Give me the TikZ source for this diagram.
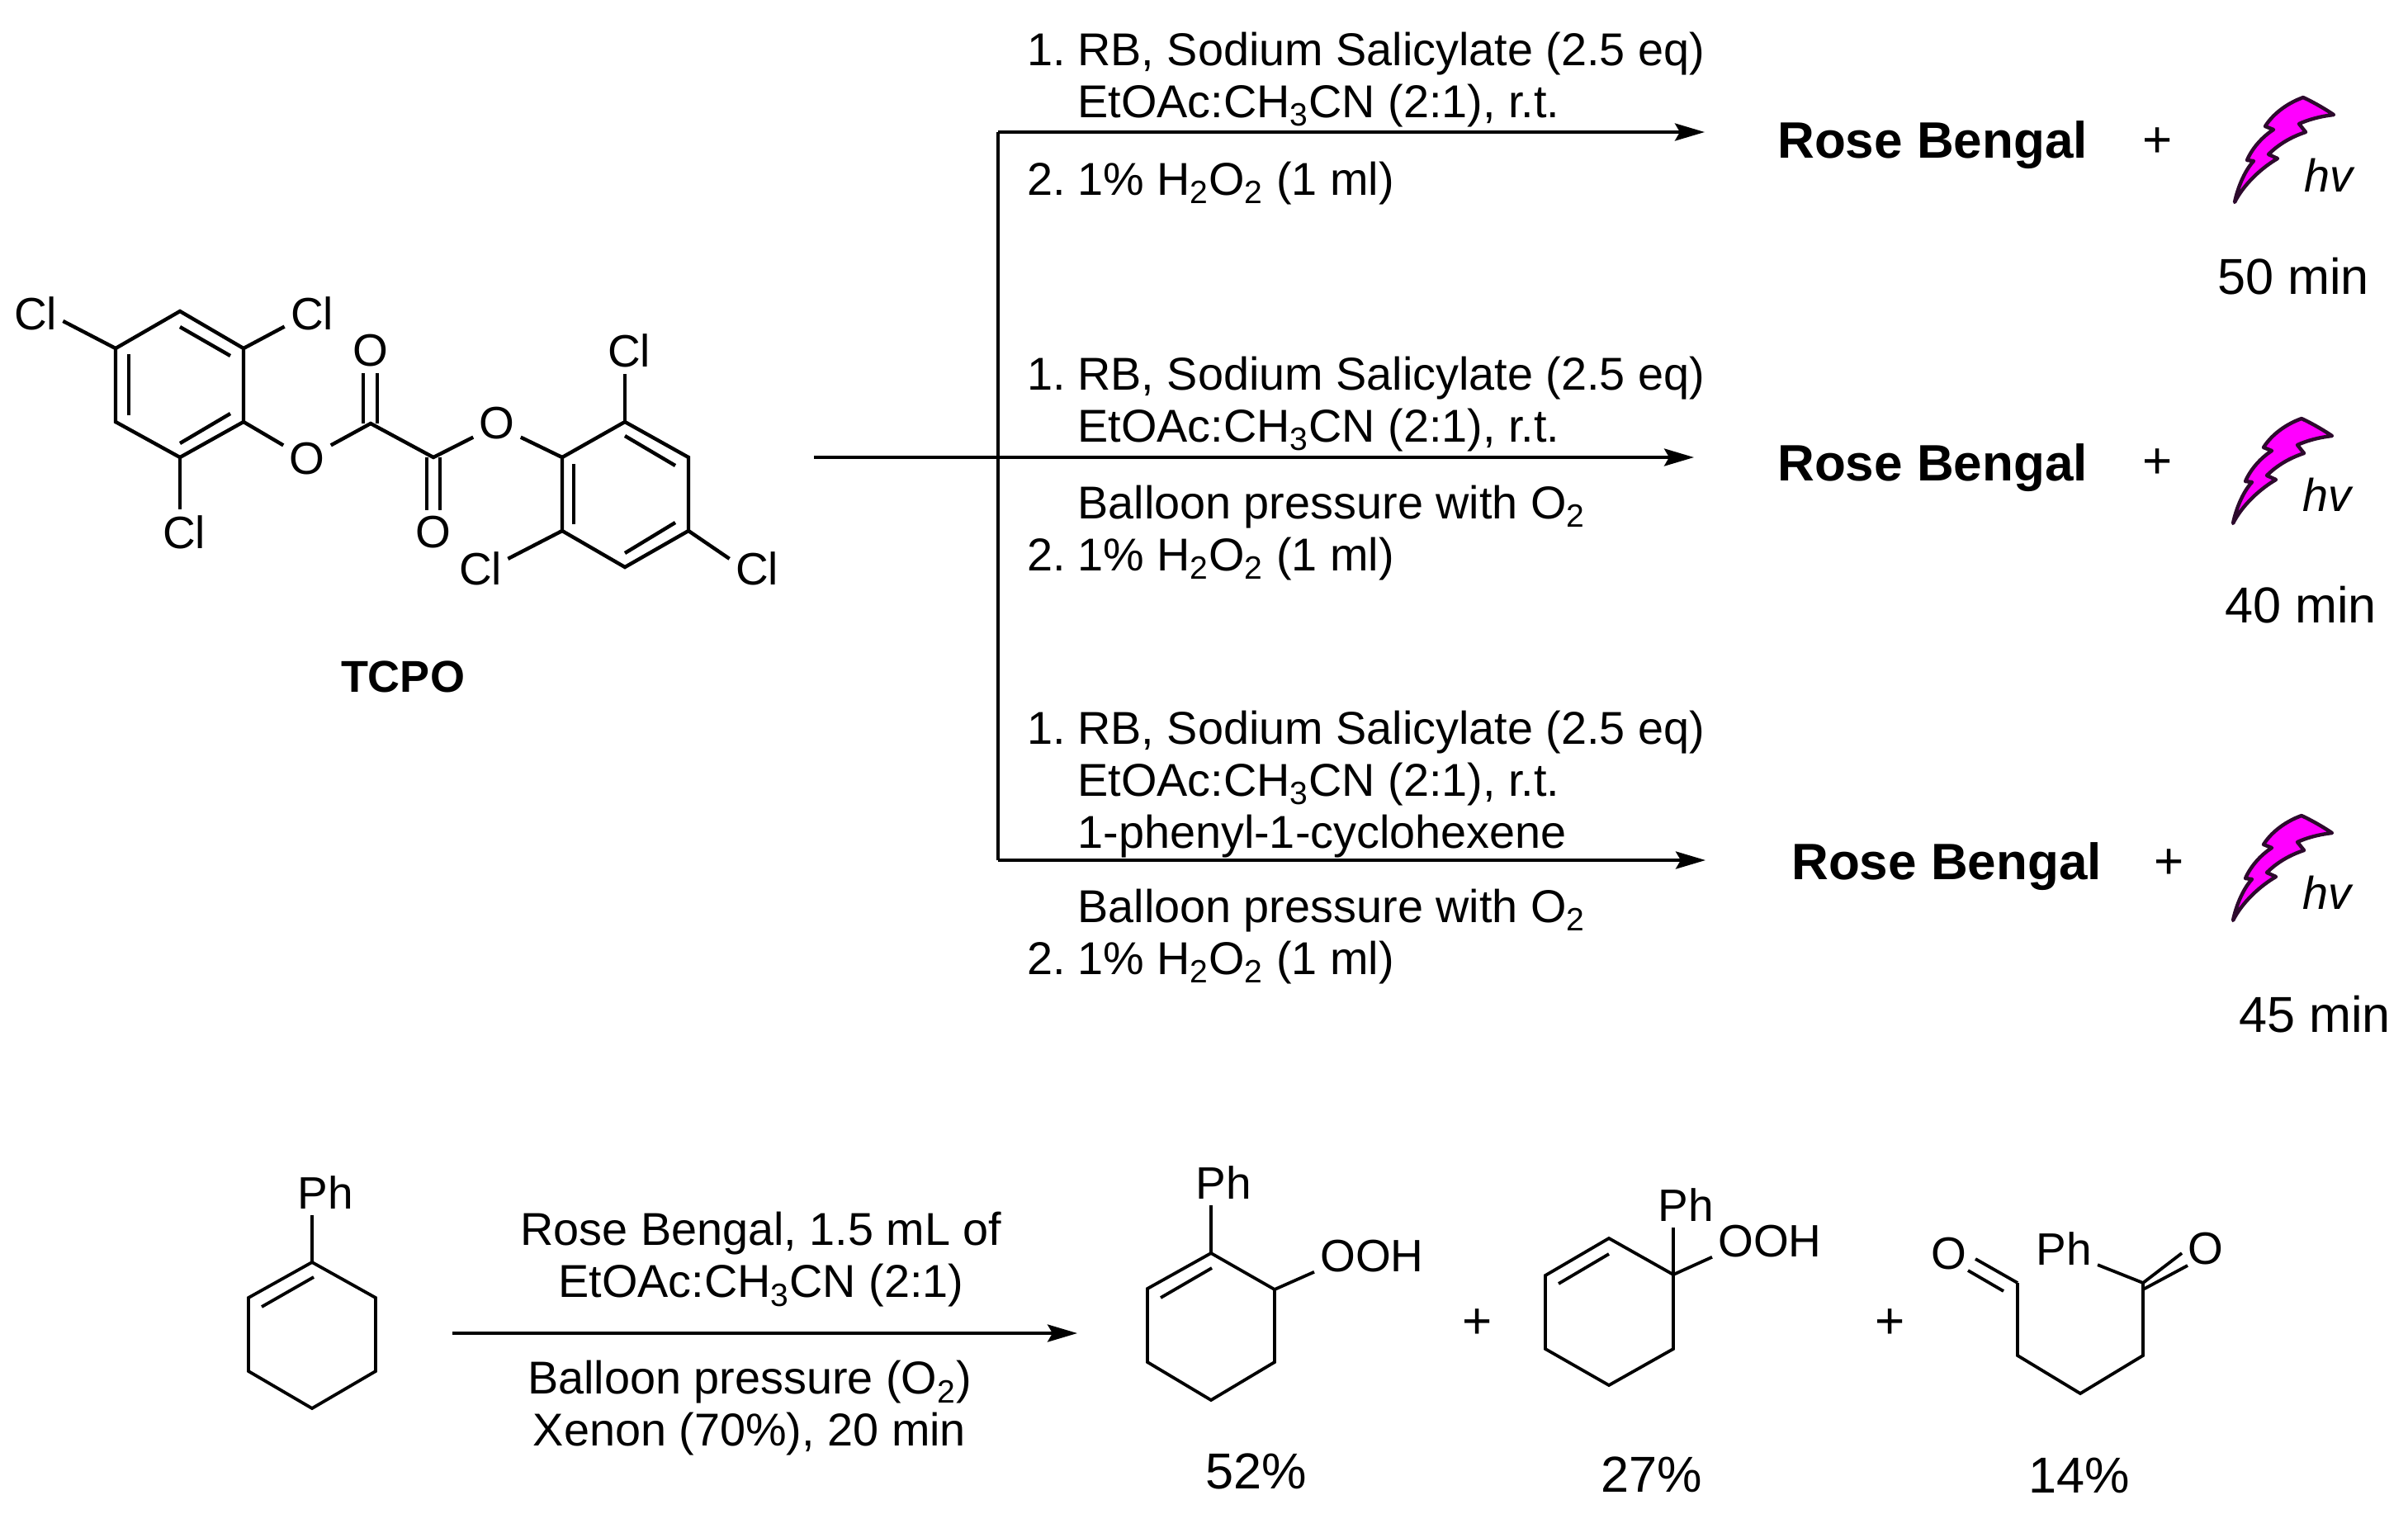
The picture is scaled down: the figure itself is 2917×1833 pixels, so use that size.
\documentclass[tikz,border=0pt]{standalone}
\usepackage{fontspec}
\setmainfont{Liberation Sans}
\usetikzlibrary{
  arrows.meta,
  calc,
  positioning,
}
\definecolor{boltfill}{RGB}{255,0,255}
\definecolor{boltline}{RGB}{45,10,45}

\begin{document}
\begin{tikzpicture}[
    x = 0.5pt,
    y = -0.5pt,
    bond/.style={line width=2.2pt},
    bondb/.style={line width=1.9pt},
    atom/.style={inner sep=3.5pt, font=\fontsize{27.5}{32}\selectfont},
    cond/.style={inner sep=0pt, font=\fontsize{27.9}{31.5}\selectfont},
    rb/.style={inner sep=0pt, font=\bfseries\fontsize{31}{36}\selectfont},
    res/.style={inner sep=0pt, font=\fontsize{30.6}{36}\selectfont},
    plus/.style={inner sep=0pt, font=\fontsize{31}{36}\selectfont},
    a/.style={-{Stealth[length=18pt,width=10.5pt,inset=3pt]}, line width=2pt},
    bolt/.pic={
      \draw[line width=2.2pt, draw=boltline, fill=boltfill, line join=round]
      (0,0) .. controls (15,7) and (28,15) .. (37,21)
      .. controls (20,23) and (6,27) .. (-5,32)
      -- (3,42)
      .. controls (-15,48) and (-30,57) .. (-42,69)
      -- (-31,74)
      .. controls (-50,85) and (-72,105) .. (-83,127)
      .. controls (-80,112) and (-72,90) .. (-60,77)
      -- (-68,76)
      .. controls (-62,62) and (-50,48) .. (-36,39)
      -- (-46,35)
      .. controls (-38,22) and (-22,8) .. (0,0) -- cycle;
    },]
  \useasboundingbox (0,0) rectangle (2917,1833);
  %% left ring
  \coordinate (La) at (218,377);
  \coordinate (Lb) at (295,422);
  \coordinate (Lc) at (295,511);
  \coordinate (Ld) at (218,554);
  \coordinate (Le) at (140,511);
  \coordinate (Lf) at (140,422);
  \draw[bond] (La) -- (Lb) -- (Lc) -- (Ld) -- (Le) -- (Lf) -- cycle;
  \draw[bond] (218,396) -- (279,431);
  \draw[bond] (156,429) -- (156,503);
  \draw[bond] (218,537) -- (279,501);
  %% right ring
  \coordinate (Ra) at (681,554);
  \coordinate (Rb) at (757,511);
  \coordinate (Rc) at (834,554);
  \coordinate (Rd) at (834,643);
  \coordinate (Re) at (757,687);
  \coordinate (Rf) at (681,643);
  \draw[bond] (Ra) -- (Rb) -- (Rc) -- (Rd) -- (Re) -- (Rf) -- cycle;
  \draw[bond] (757,528) -- (818,564);
  \draw[bond] (695,562) -- (695,635);
  \draw[bond] (757,670) -- (818,633);
  %% linker
  \coordinate (Ca) at (449,513);
  \coordinate (Cb) at (525,554);
  \node[atom](OL) at (372,556) {O};
  \node[atom](OR) at (602,513) {O};
  \node[atom](OT) at (449,425) {O};
  \node[atom](OB) at (525,645) {O};
  \node[atom](ClA) at (43,380) {Cl};
  \node[atom](ClB) at (378,380) {Cl};
  \node[atom](ClC) at (223,645) {Cl};
  \node[atom](ClD) at (762,425) {Cl};
  \node[atom](ClE) at (582,689) {Cl};
  \node[atom](ClF) at (917,689) {Cl};
  \node[rb,font=\bfseries\fontsize{27}{32}\selectfont](Tcpo) at (488,820) {TCPO};
  %%
  \draw[bond] (Lf) -- (ClA.-15);
  \draw[bond] (Lb) -- (ClB.205);
  \draw[bond] (Ld) -- (Ld |- ClC.north);
  \draw[bond] (Lc) -- (OL.150);
  \draw[bond] (OL.30) -- (Ca) -- (Cb) -- (OR.210);
  \draw[bond] (OR.-30) -- (Ra);
  \draw[bond] (Rb) -- (Rb |- ClD.south);
  \draw[bond] (Rf) -- (ClE.20);
  \draw[bond] (Rd) -- (ClF.160);
  \draw[bond] ($(Ca)+(-9,0)$) -- ($(OT.south)+(-9,0)$);
  \draw[bond] ($(Ca)+(8,0)$) -- ($(OT.south)+(8,0)$);
  \draw[bond] ($(Cb)+(-8,0)$) -- ($(OB.north)+(-8,0)$);
  \draw[bond] ($(Cb)+(8,0)$) -- ($(OB.north)+(8,0)$);
  %% reaction arrows
  \coordinate (TrA) at (1209,160);
  \coordinate (TrB) at (1209,554);
  \coordinate (TrC) at (1209,1042);
  \coordinate (StartB) at (986,554);
  \coordinate (EndA) at (2065,160);
  \coordinate (EndB) at (2052,554);
  \coordinate (EndC) at (2066,1042);
  \draw[line width=2pt] (TrA) -- (TrC);
  \draw[->,a] (TrA) -- (EndA);
  \draw[->,a] (StartB) -- (EndB);
  \draw[->,a] (TrC) -- (EndC);
  %%
  \node[cond,align=left,above right=3pt and 17.5pt of TrA](UpA)
  {1.\hspace{7.2pt}RB, Sodium Salicylate (2.5 eq)\\
    \hspace{30.5pt}EtOAc:CH\textsubscript{3}CN (2:1), r.t.};
  \node[cond,align=left,below right=18pt and 17.5pt of TrA](LowA)
  {2.\hspace{7.2pt}1\% H\textsubscript{2}O\textsubscript{2} (1 ml)};
  \node[cond,align=left,above right=3.3pt and 17.5pt of TrB](UpB)
  {1.\hspace{7.2pt}RB, Sodium Salicylate (2.5 eq)\\
    \hspace{30.5pt}EtOAc:CH\textsubscript{3}CN (2:1), r.t.};
  \node[cond,align=left,below right=17pt and 17.5pt of TrB](LowB)
  {\hspace{30.5pt}Balloon pressure with O\textsubscript{2}\\
    2.\hspace{7.2pt}1\% H\textsubscript{2}O\textsubscript{2} (1 ml)};
  \node[cond,align=left,above right=1.5pt and 17.5pt of TrC](UpC)
  {1.\hspace{7.2pt}RB, Sodium Salicylate (2.5 eq)\\
    \hspace{30.5pt}EtOAc:CH\textsubscript{3}CN (2:1), r.t.\\
    \hspace{30.5pt}1-phenyl-1-cyclohexene};
  \node[cond,align=left,below right=17.5pt and 17.5pt of TrC](LowC)
  {\hspace{30.5pt}Balloon pressure with O\textsubscript{2}\\
    2.\hspace{7.2pt}1\% H\textsubscript{2}O\textsubscript{2} (1 ml)};
  %% right column
  \node[rb](RbA) at (2341,176) {Rose Bengal};
  \node[rb](RbB) at (2341,567) {Rose Bengal};
  \node[rb](RbC) at (2358,1050) {Rose Bengal};
  \node[plus](PlA) at (2614,173) {+};
  \node[plus](PlB) at (2614,562) {+};
  \node[plus](PlC) at (2628,1047) {+};
  \pic at (2790,118) {bolt};
  \pic at (2788,507) {bolt};
  \pic at (2788,988) {bolt};
  \node[cond](HvA) at (2822,212) {\textit{hv}};
  \node[cond](HvB) at (2820,599) {\textit{hv}};
  \node[cond](HvC) at (2820,1081) {\textit{hv}};
  \node[res](TiA) at (2778,335) {50 min};
  \node[res](TiB) at (2787,733) {40 min};
  \node[res](TiC) at (2804,1229) {45 min};
  %% bottom reaction
  \coordinate (Sa) at (378,1529);
  \coordinate (Sb) at (455,1572);
  \coordinate (Sc) at (455,1661);
  \coordinate (Sd) at (378,1706);
  \coordinate (Se) at (301,1661);
  \coordinate (Sf) at (301,1572);
  \draw[bondb] (Sa) -- (Sb) -- (Sc) -- (Sd) -- (Se) -- (Sf) -- cycle;
  \draw[bondb] (380,1547) -- (317,1583);
  \node[atom](PhS) at (394,1445) {Ph};
  \draw[bondb] (Sa) -- (Sa |- PhS.south);
  %%
  \coordinate (StartD) at (548,1615);
  \coordinate (EndD) at (1305,1615);
  \draw[->,a] (StartD) -- (EndD);
  \node[cond,align=center](UpD) at (922,1526) {Rose Bengal, 1.5 mL of\\EtOAc:CH\textsubscript{3}CN (2:1)};
  \node[cond,align=center](LowD) at (908,1706) {Balloon pressure (O\textsubscript{2})\\Xenon (70\%), 20 min};
  %% first product
  \coordinate (Pa) at (1467,1518);
  \coordinate (Pb) at (1544,1562);
  \coordinate (Pc) at (1544,1650);
  \coordinate (Pd) at (1467,1696);
  \coordinate (Pe) at (1390,1650);
  \coordinate (Pf) at (1390,1561);
  \draw[bondb] (Pa) -- (Pb) -- (Pc) -- (Pd) -- (Pe) -- (Pf) -- cycle;
  \draw[bondb] (1468,1536) -- (1406,1572);
  \node[atom](PhP) at (1482,1433) {Ph};
  \node[atom](OohP) at (1662,1522) {OOH};
  \draw[bondb] (Pa) -- (Pa |- PhP.south);
  \draw[bondb] (Pb) -- (OohP.195);
  \node[res](YiP) at (1522,1782) {52\%};
  \node[plus](PlD) at (1790,1604) {+};
  %% second product
  \coordinate (Qa) at (1949,1500);
  \coordinate (Qb) at (2027,1544);
  \coordinate (Qc) at (2027,1634);
  \coordinate (Qd) at (1949,1678);
  \coordinate (Qe) at (1872,1634);
  \coordinate (Qf) at (1872,1545);
  \draw[bondb] (Qa) -- (Qb) -- (Qc) -- (Qd) -- (Qe) -- (Qf) -- cycle;
  \draw[bondb] (1949,1519) -- (1888,1555);
  \node[atom](PhQ) at (2042,1460) {Ph};
  \node[atom](OohQ) at (2144,1504) {OOH};
  \draw[bondb] (Qb) -- (Qb |- PhQ.south);
  \draw[bondb] (Qb) -- (OohQ.195);
  \node[res](YiQ) at (2001,1786) {27\%};
  \node[plus](PlE) at (2290,1604) {+};
  %% third product
  \coordinate (Ka) at (2444,1554);
  \coordinate (Kb) at (2444,1642);
  \coordinate (Kc) at (2520,1688);
  \coordinate (Kd) at (2596,1642);
  \coordinate (Ke) at (2596,1554);
  \draw[bondb] (Ka) -- (Kb) -- (Kc) -- (Kd) -- (Ke);
  \node[atom](OKa) at (2361,1519) {O};
  \node[atom](OKb) at (2672,1513) {O};
  \node[atom](PhK) at (2500,1513) {Ph};
  \draw[bondb] (Ka) -- (2393,1525);
  \draw[bondb] (2427,1564) -- (2384,1539);
  \draw[bondb] (Ke) -- (2643,1518);
  \draw[bondb] (2596,1562) -- (2650,1533);
  \draw[bondb] (Ke) -- (PhK.-25);
  \node[res](YiK) at (2519,1787) {14\%};
\end{tikzpicture}
\end{document}
